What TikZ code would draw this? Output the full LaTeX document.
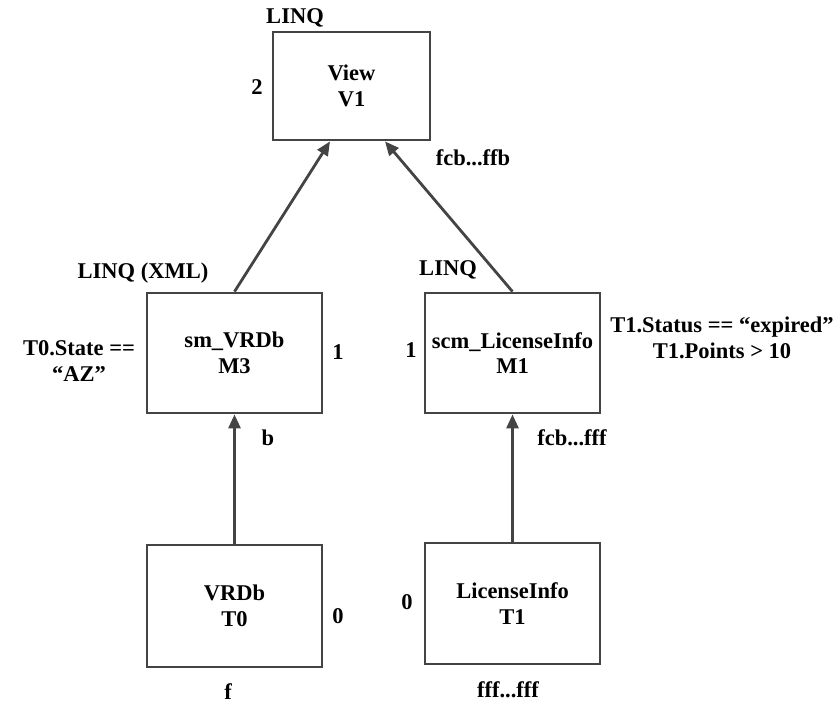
\documentclass[tikz,border=0pt]{standalone}
\usepackage{fontspec}
\setmainfont{Liberation Serif}
\usetikzlibrary{arrows.meta,calc}

\definecolor{edgegray}{HTML}{444444}

\begin{document}
\begin{tikzpicture}[x=1pt,y=-1pt,>={Triangle[length=14pt,width=12pt]},
  txt/.style={font=\fontsize{22.5}{25.5}\selectfont\bfseries,align=center,inner sep=0pt},
  blk/.style={txt,draw=edgegray,line width=2.8pt,minimum width=175pt,minimum height=120pt},
  conn/.style={draw=edgegray,line width=2.8pt}]
  \useasboundingbox (0,0) rectangle (840,704);
  % boxes
  \node[blk,minimum width=157pt,minimum height=108pt] (V1) at (351.5,86) {View\\V1};
  \node[blk] (M3) at (234.5,353) {sm\_VRDb\\M3};
  \node[blk] (M1) at (512.5,353) {scm\_LicenseInfo\\M1};
  \node[blk,minimum height=122pt] (T0) at (234.5,606) {VRDb\\T0};
  \node[blk,minimum height=121pt] (T1) at (512.5,603.5) {LicenseInfo\\T1};
  % labels
  \node[txt] (lqV) at (295,18) {LINQ};
  \node[txt] (lvV) at (257,87) {2};
  \node[txt] (bV) at (473,158) {fcb...ffb};
  \node[txt] (lqM3) at (143,273) {LINQ (XML)};
  \node[txt] (lqM1) at (448,270) {LINQ};
  \node[txt] (cM3) at (79,361) {T0.State ==\\“AZ”};
  \node[txt] (lvM3) at (338,352) {1};
  \node[txt] (lvM1) at (411,350) {1};
  \node[txt] (cM1) at (722,338) {T1.Status == “expired”\\T1.Points > 10};
  \node[txt] (bM3) at (268,438) {b};
  \node[txt] (bM1) at (572,438) {fcb...fff};
  \node[txt] (lvT0) at (338,616) {0};
  \node[txt] (lvT1) at (407,602) {0};
  \node[txt] (bT0) at (228,692) {f};
  \node[txt] (bT1) at (508,690) {fff...fff};
  % connectors
  \draw[conn,->] (T0) -- (M3);
  \draw[conn,->] (T1) -- (M1);
  \draw[conn,->] (M3.north) -- ($(V1.south)+(-21.5,0)$);
  \draw[conn,->] (M1.north) -- ($(V1.south)+(33.5,0)$);
\end{tikzpicture}
\end{document}
